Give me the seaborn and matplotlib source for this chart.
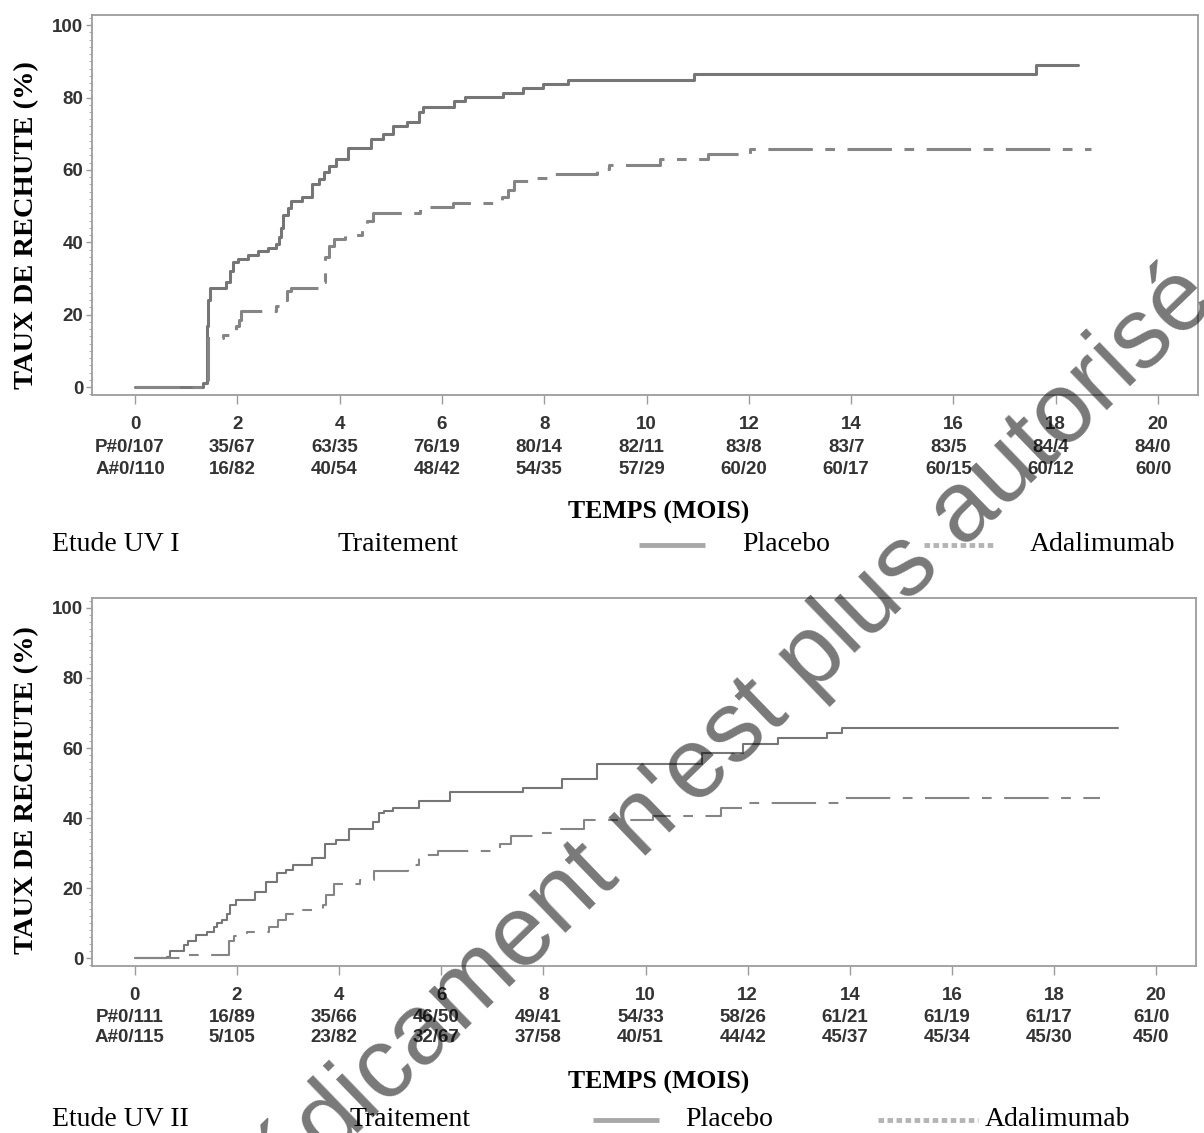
import matplotlib
matplotlib.use("Agg")
import matplotlib.pyplot as plt
import matplotlib.transforms as mtransforms
from matplotlib.lines import Line2D
from matplotlib.ticker import MultipleLocator
import pandas as pd
import seaborn as sns

# ---------------- data ----------------
uv1_placebo_t = [0, 1.33, 1.40, 1.42, 1.47, 1.78, 1.86, 1.92, 2.02, 2.20, 2.40, 2.60, 2.75,
                 2.82, 2.86, 2.90, 3.00, 3.05, 3.27, 3.47, 3.60, 3.70, 3.80, 3.92, 4.16,
                 4.62, 4.85, 5.04, 5.32, 5.56, 5.64, 6.24, 6.46, 7.20, 7.58, 7.98, 8.46,
                 10.92, 17.62, 18.44]
uv1_placebo_v = [0, 1, 17, 24, 27.5, 29, 32, 34.5, 35.5, 36.5, 37.5, 38.5, 39.5,
                 41.5, 44, 47.5, 49.5, 51.5, 52.5, 56, 57.5, 59.5, 61, 63, 66,
                 68.5, 70, 72, 73.3, 76, 77.5, 79, 80.2, 81.3, 82.5, 83.7, 84.9,
                 86.4, 89, 89]

uv1_adali_t = [0, 1.42, 1.72, 1.86, 1.98, 2.04, 2.07, 2.75, 2.85, 2.97, 3.05, 3.65, 3.72,
               3.80, 3.90, 4.10, 4.43, 4.54, 4.65, 5.58, 6.22, 7.18, 7.30, 7.40, 7.75,
               8.06, 9.04, 9.26, 10.26, 11.20, 12.02, 18.68]
uv1_adali_v = [0, 13.5, 14.5, 15.5, 17, 18.5, 21, 22.5, 24, 26.5, 27.5, 29, 36,
               39, 41, 42, 44, 46, 48, 49.8, 50.8, 52.5, 54.5, 56.8, 57.8,
               58.8, 60.2, 61.3, 62.9, 64.3, 65.8, 65.8]

uv2_placebo_t = [0, 0.62, 0.68, 0.96, 1.04, 1.19, 1.41, 1.55, 1.60, 1.70, 1.80, 1.86, 1.98,
                 2.35, 2.56, 2.79, 2.96, 3.10, 3.46, 3.73, 3.93, 4.19, 4.66, 4.78, 4.88,
                 5.06, 5.56, 6.18, 7.60, 8.36, 9.05, 11.10, 11.90, 12.60, 13.55, 13.85, 19.25]
uv2_placebo_v = [0, 0.5, 2, 3.8, 4.8, 6.6, 7.4, 9, 10, 11, 12.6, 15.2, 16.7,
                 18.8, 21.9, 24.4, 25.2, 26.5, 28.6, 32.7, 33.7, 36.8, 38.9, 41.4, 42,
                 43, 45, 47.4, 48.7, 51.2, 55.4, 58.5, 61, 62.8, 64.3, 65.8, 65.8]

uv2_adali_t = [0, 0.95, 1.85, 1.94, 2.20, 2.62, 2.80, 2.96, 3.29, 3.68, 3.74, 3.90, 4.40,
               4.68, 5.34, 5.56, 5.94, 7.15, 7.37, 7.82, 8.34, 8.80, 10.15, 11.48, 12.00,
               13.86, 18.90]
uv2_adali_v = [0, 1, 4.8, 6.4, 7.6, 9, 11, 12.6, 13.8, 15.2, 18.2, 21.3, 22.4,
               25, 26.5, 29.6, 30.6, 32.7, 35, 35.8, 36.8, 39.4, 40.7, 43, 44.3,
               45.8, 45.8]

treatments = ["Placebo", "Adalimumab"]
studies = ["Etude UV I", "Etude UV II"]
x_ticks = [0, 2, 4, 6, 8, 10, 12, 14, 16, 18, 20]
y_ticks = [0, 20, 40, 60, 80, 100]

uv1_risk_placebo = ["P#0/107", "35/67", "63/35", "76/19", "80/14", "82/11", "83/8", "83/7", "83/5", "84/4", "84/0"]
uv1_risk_adali = ["A#0/110", "16/82", "40/54", "48/42", "54/35", "57/29", "60/20", "60/17", "60/15", "60/12", "60/0"]
uv2_risk_placebo = ["P#0/111", "16/89", "35/66", "46/50", "49/41", "54/33", "58/26", "61/21", "61/19", "61/17", "61/0"]
uv2_risk_adali = ["A#0/115", "5/105", "23/82", "32/67", "37/58", "40/51", "44/42", "45/37", "45/34", "45/30", "45/0"]

y_label = "TAUX DE RECHUTE (%)"
x_label = "TEMPS (MOIS)"
legend_title = "Traitement"
watermark = "Ce médicament n'est plus autorisé"

# ---------------- style ----------------
sns.set_style("ticks")
plt.rcParams["font.family"] = ["Liberation Sans", "DejaVu Sans"]
plt.rcParams["lines.scale_dashes"] = False

SANS = ["Liberation Sans", "DejaVu Sans"]
SERIF = ["Liberation Serif", "DejaVu Serif"]
W, H = 1204, 1133

fig = plt.figure(figsize=(W / 100, H / 100), dpi=100)
fig.patch.set_facecolor("white")


def fx(px):
    return px / W


def fy(py):
    return 1 - py / H


def make_df(pt, pv, at, av):
    rows = []
    for t, v in zip(pt, pv):
        rows.append({"temps": t, "taux": v, "traitement": treatments[0]})
    for t, v in zip(at, av):
        rows.append({"temps": t, "taux": v, "traitement": treatments[1]})
    return pd.DataFrame(rows)


panels = [
    dict(df=make_df(uv1_placebo_t, uv1_placebo_v, uv1_adali_t, uv1_adali_v),
         box=(92, 15, 1198, 395), lw=2.2, risk=(uv1_risk_placebo, uv1_risk_adali),
         risk_y=(448, 470), xlab_y=512, leg_y=545, study=studies[0],
         leg_x=dict(study=52, title=338, s1=(639, 705), p=742, s2=(924, 994), a=1030),
         ylab_y=225),
    dict(df=make_df(uv2_placebo_t, uv2_placebo_v, uv2_adali_t, uv2_adali_v),
         box=(92, 598, 1196, 966), lw=1.5, risk=(uv2_risk_placebo, uv2_risk_adali),
         risk_y=(1017, 1038), xlab_y=1082, leg_y=1120, study=studies[1],
         leg_x=dict(study=52, title=350, s1=(593, 659), p=685, s2=(878, 978), a=985),
         ylab_y=790),
]

palette = {"Placebo": "#767676", "Adalimumab": "#858585"}
dash_map = {"Placebo": "", "Adalimumab": (32, 9, 7, 9)}

for p in panels:
    l, t, r, b = p["box"]
    ax = fig.add_axes([fx(l), fy(b), (r - l) / W, (b - t) / H])
    sns.lineplot(data=p["df"], x="temps", y="taux", hue="traitement", style="traitement",
                 hue_order=treatments, style_order=treatments,
                 palette=palette, dashes=dash_map, estimator=None, legend=False,
                 drawstyle="steps-post", linewidth=p["lw"], ax=ax)
    ax.set_xlim(-0.84, 20.78)
    ax.set_ylim(-2.2, 102.8)
    ax.set_xticks(x_ticks)
    ax.set_xticklabels([str(v) for v in x_ticks])
    ax.set_yticks(y_ticks)
    ax.set_yticklabels([str(v) for v in y_ticks])
    ax.yaxis.set_minor_locator(MultipleLocator(2))
    ax.set_xlabel("")
    ax.set_ylabel("")
    for s in ax.spines.values():
        s.set_visible(True)
        s.set_color("#9c9c9c")
        s.set_linewidth(1.3)
    ax.tick_params(axis="x", length=6.5, width=1.0, color="#9c9c9c", pad=8.5,
                   labelsize=13.5, labelcolor="#333333")
    ax.tick_params(axis="y", which="major", length=4.3, width=1.0, color="#9c9c9c", pad=2,
                   labelsize=13.5, labelcolor="#333333")
    ax.tick_params(axis="y", which="minor", length=2.2, width=0.8, color="#b0b0b0")
    for lab in ax.get_xticklabels() + ax.get_yticklabels():
        lab.set_fontweight("bold")
        lab.set_family(SANS)

    # number-at-risk rows
    trans = mtransforms.blended_transform_factory(ax.transData, fig.transFigure)
    trans = trans + mtransforms.ScaledTranslation(-5 / 100, 0, fig.dpi_scale_trans)
    for labels, ry in zip(p["risk"], p["risk_y"]):
        for xv, lab in zip(x_ticks, labels):
            fig.text(xv, fy(ry), lab, transform=trans, ha="center", va="center",
                     fontsize=13.5, fontweight="bold", color="#333333", family=SANS)

    # axis titles
    fig.text(fx(27), fy(p["ylab_y"]), y_label, rotation=90, ha="center", va="center",
             fontsize=20.5, fontweight="bold", family=SERIF, color="black")
    fig.text(fx(659), fy(p["xlab_y"]), x_label, ha="center", va="center",
             fontsize=18.5, fontweight="bold", family=SERIF, color="black")

    # legend row
    lx = p["leg_x"]
    ly = fy(p["leg_y"])
    for key, txt in (("study", p["study"]), ("title", legend_title),
                     ("p", treatments[0]), ("a", treatments[1])):
        fig.text(fx(lx[key]), ly, txt, ha="left", va="center", fontsize=20,
                 family=SERIF, color="black")
    fig.add_artist(Line2D([fx(lx["s1"][0]), fx(lx["s1"][1])], [ly, ly], transform=fig.transFigure,
                          color="#a8a8a8", linewidth=3.5, solid_capstyle="butt"))
    fig.add_artist(Line2D([fx(lx["s2"][0]), fx(lx["s2"][1])], [ly, ly], transform=fig.transFigure,
                          color="#b4b4b4", linewidth=3.5, linestyle=(0, (4, 2.5)),
                          dash_capstyle="butt"))

# watermark
fig.text(0.0972, -0.2052, watermark, rotation=44, rotation_mode="anchor", ha="left",
         va="baseline", fontsize=72, color="black", alpha=0.53, family=SANS, zorder=100)

fig.savefig("out.png", dpi=100, facecolor="white")
